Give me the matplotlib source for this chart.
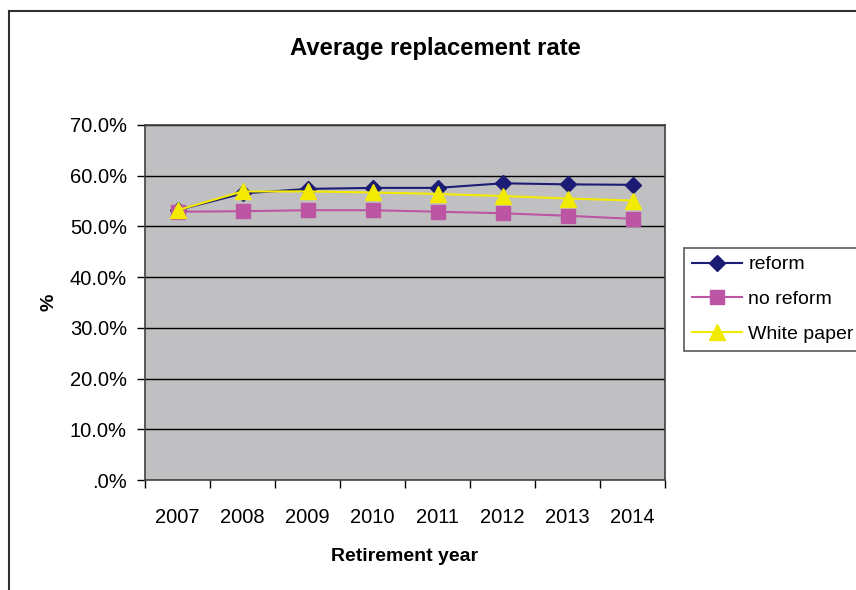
import matplotlib
matplotlib.use("Agg")
import matplotlib.pyplot as plt
from matplotlib.lines import Line2D
from matplotlib.ticker import FuncFormatter

plt.rcParams['font.family'] = ['Liberation Sans', 'DejaVu Sans']

# data (share, not percent)
years = ['2007', '2008', '2009', '2010', '2011', '2012', '2013', '2014']
reform = [0.532, 0.565, 0.574, 0.576, 0.576, 0.585, 0.583, 0.582]
no_reform = [0.529, 0.530, 0.532, 0.532, 0.529, 0.526, 0.521, 0.515]
white_paper = [0.532, 0.569, 0.569, 0.567, 0.564, 0.560, 0.555, 0.551]

fig = plt.figure(figsize=(8.56, 5.90), dpi=100)
ax = fig.add_axes([145 / 856, 1 - 480 / 590, 520 / 856, 355 / 590])
ax.set_facecolor('#c0c0c2')

x = list(range(len(years)))
ax.plot(x, reform, color='#1c1c74', marker='D', markersize=8, linewidth=1.5,
        label='reform', zorder=3)
ax.plot(x, no_reform, color='#bb55a4', marker='s', markersize=10, linewidth=1.5,
        label='no reform', zorder=4)
ax.plot(x, white_paper, color='#f2ea00', marker='^', markersize=11, linewidth=1.5,
        label='White paper', zorder=5)

ax.set_xlim(-0.5, len(years) - 0.5)
ax.set_ylim(0, 0.7)

# ticks between categories, labels in the middle
ax.set_xticks([i - 0.5 for i in range(len(years) + 1)])
ax.set_xticklabels([])
ax.set_xticks(x, minor=True)
ax.set_xticklabels(years, minor=True)
ax.tick_params(axis='x', which='major', direction='out', length=6, width=1)
ax.tick_params(axis='x', which='minor', length=0, pad=20, labelsize=14.5)

ax.set_yticks([i / 10 for i in range(8)])
ax.yaxis.set_major_formatter(FuncFormatter(lambda v, p: '.0%' if v == 0 else '%.1f%%' % (v * 100)))
ax.tick_params(axis='y', direction='out', length=6, width=1, labelsize=14.5, pad=7)

ax.grid(axis='y', color='black', linewidth=1)
ax.set_axisbelow(True)
for s in ax.spines.values():
    s.set_color('#404040')
    s.set_linewidth(1.2)

fig.text(435 / 856, 1 - 48 / 590, 'Average replacement rate', fontsize=17.2,
         fontweight='bold', ha='center', va='center')
ax.set_xlabel('Retirement year', fontsize=14, fontweight='bold')
ax.xaxis.set_label_coords(0.5, -(548 - 480) / 355)
ax.set_ylabel('%', fontsize=14, fontweight='bold')
ax.yaxis.set_label_coords(-(145 - 58) / 520, 0.5)

leg = fig.legend(loc='upper left', bbox_to_anchor=(684 / 856, 1 - 248 / 590),
                 fontsize=14, frameon=True, fancybox=False, edgecolor='#303030',
                 handlelength=2.6, handletextpad=0.3, borderpad=0.4,
                 labelspacing=0.88, borderaxespad=0)
leg.get_frame().set_linewidth(1.2)

# outer chart border (left and top only visible)
fig.add_artist(Line2D([9 / 856, 9 / 856], [0, 1 - 11 / 590], color='#303030', linewidth=1.5))
fig.add_artist(Line2D([9 / 856, 1], [1 - 11 / 590, 1 - 11 / 590], color='#303030', linewidth=1.5))

fig.savefig('out.png', dpi=100)
